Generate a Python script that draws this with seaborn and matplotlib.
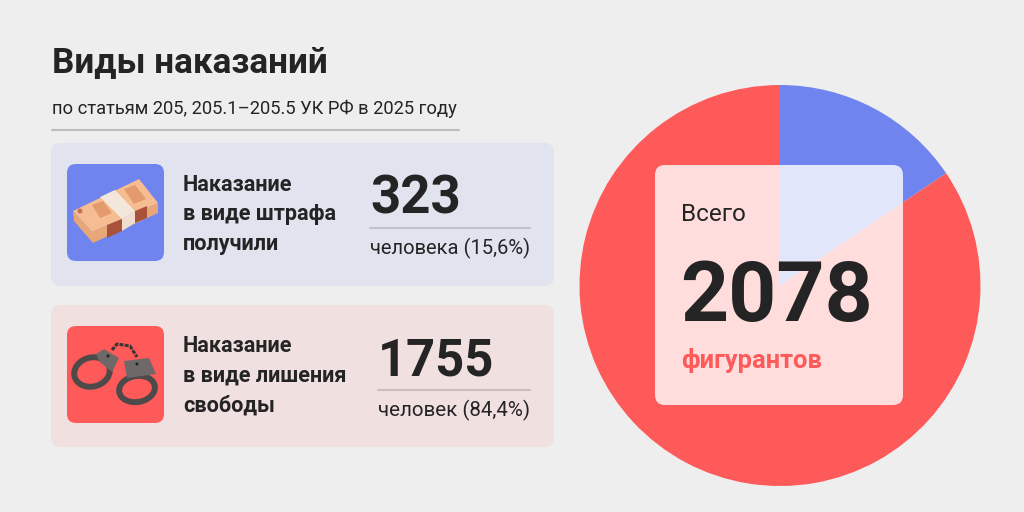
import matplotlib
matplotlib.use('Agg')
import matplotlib.pyplot as plt
from matplotlib.patches import FancyBboxPatch, Polygon, Circle, Annulus
import seaborn as sns

# data
labels = ['штраф', 'лишение свободы']
values = [323, 1755]
total = 2078
title = 'Виды наказаний'
subtitle = 'по статьям 205, 205.1–205.5 УК РФ в 2025 году'
card_text = [['Наказание', 'в виде штрафа', 'получили'], ['Наказание', 'в виде лишения', 'свободы']]
card_nums = ['323', '1755']
card_sub = ['человека (15,6%)', 'человек (84,4%)']

sns.set_theme(style='white')
plt.rcParams['font.family'] = ['Roboto', 'DejaVu Sans']
pal = sns.color_palette(['#6F84EE', '#FF5A5A'])
ink = '#242424'

fig = plt.figure(figsize=(10.24, 5.12), dpi=100, facecolor='#EEEEEE')

# pie underneath
ax_pie = fig.add_axes([579.5 / 1024, (512 - 486) / 512, 401 / 1024, 401 / 512], zorder=1)
ax_pie.pie(values, colors=pal, startangle=90, counterclock=False, radius=1,
           wedgeprops={'linewidth': 0})
ax_pie.set_xlim(-1, 1)
ax_pie.set_ylim(-1, 1)

# overlay in pixel coords
ax = fig.add_axes([0, 0, 1, 1], zorder=2)
ax.set_xlim(0, 1024)
ax.set_ylim(512, 0)
ax.axis('off')
ax.patch.set_alpha(0)


def box(x0, y0, x1, y1, r, color, alpha=1.0, z=2):
    p = FancyBboxPatch((x0 + r, y0 + r), x1 - x0 - 2 * r, y1 - y0 - 2 * r,
                       boxstyle='round,pad=%d,rounding_size=%d' % (r, r),
                       fc=color, ec='none', alpha=alpha, zorder=z)
    ax.add_patch(p)


def poly(pts, color, z=5):
    ax.add_patch(Polygon(pts, fc=color, ec='none', zorder=z))


ax.text(52, 72, title, fontsize=25.3, fontweight='bold', color=ink)
ax.text(52, 114, subtitle, fontsize=13.2, color=ink)
ax.plot([52, 459], [130, 130], color='#BDBDBD', lw=1.5)

# cards
box(51, 143, 554, 286, 10, '#E1E3EF')
box(51, 305, 554, 447, 10, '#F1E0E0')
box(67, 164, 164, 261, 9, pal[0], z=3)
box(67, 326, 164, 423, 9, pal[1], z=3)

# money stack
poly([(73, 211), (92, 232), (158, 203), (158, 213), (93, 243), (74, 221)], '#E9A677')
poly([(73, 211), (139, 179), (158, 203), (92, 232)], '#F6BC92', z=6)
poly([(100, 197), (115, 190), (135, 211), (122, 219)], '#F3E6DA', z=7)
poly([(122, 219), (135, 211), (135, 223), (122, 231)], '#EFDDCF', z=7)
poly([(107, 225), (122, 219), (122, 231), (107, 238)], '#A8523C', z=7)
poly([(135, 211), (147, 206), (147, 218), (135, 223)], '#A8523C', z=7)
poly([(92, 205), (103, 201), (112, 213), (100, 218)], '#E39A6C', z=7)
poly([(124, 189), (135, 185), (146, 199), (134, 204)], '#E39A6C', z=7)
ax.add_patch(Circle((80, 211), 2.5, fc='#C8705A', ec='none', zorder=7))

# handcuffs
steel = '#4E4A4A'
ax.add_patch(Annulus((92, 372), (21, 17.5), 6, angle=-15, fc=steel, ec='none', zorder=4))
ax.add_patch(Annulus((137, 389), (21, 16), 6, angle=-10, fc=steel, ec='none', zorder=4))
poly([(96, 354), (104, 349), (119, 358), (112, 372), (100, 362)], '#6E6868')
poly([(124, 361), (149, 358), (156, 374), (127, 378)], '#6E6868')
ax.plot([112, 117, 130, 137], [350, 344, 346, 357], color='#3A3636', lw=2.2,
        ls=(0, (1.3, 0.4)), zorder=4)
ax.add_patch(Circle((108, 356), 1.5, fc='#222222', ec='none', zorder=6))
ax.add_patch(Circle((137, 364), 1.5, fc='#222222', ec='none', zorder=6))

for lines, ys in zip(card_text, [[191, 220, 250], [352, 382, 412]]):
    for line, y in zip(lines, ys):
        ax.text(183, y, line, fontsize=15.6, fontweight='bold', color=ink)

ax.text(370, 213, card_nums[0], fontsize=38, fontweight='bold', color=ink)
ax.plot([370, 530], [228, 228], color='#BFC2CE', lw=1.5)
ax.text(370, 254, card_sub[0], fontsize=14.5, color=ink)
ax.text(378, 376, card_nums[1], fontsize=36.5, fontweight='bold', color=ink)
ax.plot([378, 530], [390, 390], color='#CDBDBD', lw=1.5)
ax.text(378, 416, card_sub[1], fontsize=14.8, color=ink)

# center panel
box(655, 165, 903, 405, 10, 'white', alpha=0.8)
ax.text(681, 221, 'Всего', fontsize=17.5, color=ink, zorder=6)
ax.text(680, 321, str(total), fontsize=60.5, fontweight='bold', color=ink, zorder=6)
ax.text(681, 368, 'фигурантов', fontsize=18.4, fontweight='bold', color=pal[1], zorder=6)

fig.savefig('out.png', dpi=100, facecolor=fig.get_facecolor())
